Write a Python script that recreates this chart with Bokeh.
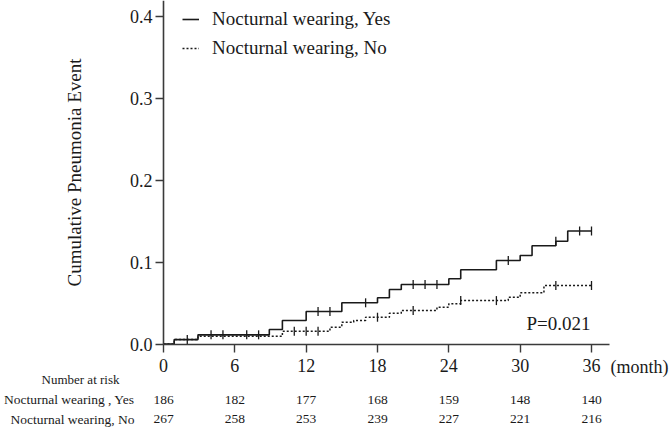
import numpy as np
from bokeh.plotting import figure
from bokeh.models import (Range1d, FixedTicker, NumeralTickFormatter, Legend, LegendItem,
                          Label, LabelSet, ColumnDataSource)
from bokeh.core.properties import value
from bokeh.embed import file_html
from bokeh.resources import INLINE

# ---- data ----
yes_time = [0, 0.9, 2.9, 8.9, 10, 12, 15, 18, 19, 20, 24, 25, 28, 30, 31, 33, 34, 36]
yes_cum = [0, 0.0054, 0.0112, 0.0177, 0.0287, 0.0397, 0.0503, 0.0564, 0.0665, 0.0726,
           0.0796, 0.0906, 0.102, 0.108, 0.120, 0.1255, 0.138, 0.138]
yes_censor = [2, 4, 5, 7, 8, 13, 14, 17, 21, 22, 23, 29, 33, 35, 36]

no_time = [0, 0.9, 2.9, 10, 14, 15, 16, 17, 19, 20, 23, 24, 25, 29, 30, 32, 36]
no_cum = [0, 0.0054, 0.0095, 0.0156, 0.0205, 0.0266, 0.0287, 0.0327, 0.0376, 0.041,
          0.045, 0.049, 0.053, 0.057, 0.0625, 0.0714, 0.0714]
no_censor = [11, 12, 13, 18, 21, 25, 28, 33, 36]

risk_months = [0, 6, 12, 18, 24, 30, 36]
risk_yes = [186, 182, 177, 168, 159, 148, 140]
risk_no = [267, 258, 253, 239, 227, 221, 216]

y_ticks = [0.0, 0.1, 0.2, 0.3, 0.4]
series_labels = ["Nocturnal wearing, Yes", "Nocturnal wearing, No"]
row_labels = ["Nocturnal wearing , Yes", "Nocturnal wearing, No"]
p_text = "P=0.021"
x_unit = "(month)"
risk_title = "Number at risk"

FONT = "Liberation Serif"
INK = "#1a1a1a"
AXC = "#3a3a3a"

W, H = 669, 428
X0_PX, PX_PER_MONTH = 163.0, 11.889      # layout of the plotting area
Y0_PX, PX_PER_UNIT = 343.5, 819.0


def step_value(times, cums, t):
    i = np.searchsorted(np.asarray(times), t, side="right") - 1
    return float(cums[i])


def mx(px):  # screen x -> months
    return (px - X0_PX) / PX_PER_MONTH


def vy(py):  # screen y -> value
    return (Y0_PX - py) / PX_PER_UNIT


p = figure(width=W, height=H, output_backend="svg", toolbar_location=None,
           x_range=Range1d(mx(0), mx(W)), y_range=Range1d(vy(H), vy(0)),
           min_border=0, min_border_left=0, min_border_right=0,
           min_border_top=0, min_border_bottom=0)
p.outline_line_color = None
p.grid.visible = False
p.background_fill_color = "white"
p.border_fill_color = "white"

# curves
r_yes = p.step(yes_time, yes_cum, mode="after", line_color=INK, line_width=1.6)
r_no = p.step(no_time, no_cum, mode="after", line_color=INK, line_width=1.5, line_dash="2 2")

# censor marks
p.scatter(yes_censor, [step_value(yes_time, yes_cum, c) for c in yes_censor],
          marker="dash", angle=np.pi / 2, size=9, line_color=INK, line_width=1.3)
p.scatter(no_censor, [step_value(no_time, no_cum, c) for c in no_censor],
          marker="dash", angle=np.pi / 2, size=9, line_color=INK, line_width=1.3)

# axes (drawn at x=0 / y=0 of the data)
xa = p.xaxis[0]
xa.fixed_location = 0
xa.bounds = (0, mx(609))
xa.ticker = FixedTicker(ticks=risk_months)
xa.minor_tick_line_color = None
xa.major_tick_out = 8
xa.major_tick_in = 0
xa.axis_line_width = 1.6
xa.axis_line_color = AXC
xa.major_tick_line_color = AXC
xa.major_tick_line_width = 1.4
xa.major_label_text_font = FONT
xa.major_label_text_font_size = "18px"
xa.major_label_text_color = INK
xa.major_label_standoff = 7

ya = p.yaxis[0]
ya.fixed_location = 0
ya.bounds = (0, vy(0))
ya.ticker = FixedTicker(ticks=y_ticks)
ya.formatter = NumeralTickFormatter(format="0.0")
ya.minor_tick_line_color = None
ya.major_tick_out = 8
ya.major_tick_in = 0
ya.axis_line_width = 1.6
ya.axis_line_color = AXC
ya.major_tick_line_color = AXC
ya.major_tick_line_width = 1.4
ya.major_label_text_font = FONT
ya.major_label_text_font_size = "18px"
ya.major_label_text_color = INK
ya.major_label_standoff = 3
ya.axis_label = "Cumulative Pneumonia Event"
ya.axis_label_text_font = FONT
ya.axis_label_text_font_size = "19px"
ya.axis_label_text_font_style = "normal"
ya.axis_label_text_color = INK
ya.axis_label_standoff = 42

# legend
legend = Legend(items=[LegendItem(label=series_labels[0], renderers=[r_yes]),
                       LegendItem(label=series_labels[1], renderers=[r_no])],
                location=(182, H - 59), orientation="vertical",
                glyph_width=17, glyph_height=20, label_height=20, spacing=7,
                label_standoff=13, padding=0, margin=0,
                border_line_alpha=0, background_fill_alpha=0,
                label_text_font=FONT, label_text_font_size="19px", label_text_color=INK)
p.add_layout(legend)

# p value
p.add_layout(Label(x=mx(590), y=vy(323), text=p_text, text_align="right",
                   text_baseline="middle", text_font=FONT, text_font_size="19px",
                   text_color=INK))

# (month)
p.add_layout(Label(x=mx(610), y=vy(366), text=x_unit, text_align="left",
                   text_baseline="middle", text_font=FONT, text_font_size="18px",
                   text_color=INK))

# number at risk table
p.add_layout(Label(x=mx(80), y=vy(379), text=risk_title, text_align="center",
                   text_baseline="middle", text_font=FONT, text_font_size="13px",
                   text_color=INK))
row_py = [399, 418.5]
for lab, ry in zip(row_labels, row_py):
    p.add_layout(Label(x=mx(134), y=vy(ry), text=lab, text_align="right",
                       text_baseline="middle", text_font=FONT, text_font_size="13.5px",
                       text_color=INK))
for vals, ry in zip([risk_yes, risk_no], row_py):
    src = ColumnDataSource(dict(x=risk_months, y=[vy(ry)] * len(risk_months),
                                t=[str(v) for v in vals]))
    p.add_layout(LabelSet(x="x", y="y", text="t", source=src, text_align="center",
                          text_baseline="middle", text_font=value(FONT),
                          text_font_size="13.5px", text_color=INK))

open("out.html", "w").write(file_html(p, INLINE))
